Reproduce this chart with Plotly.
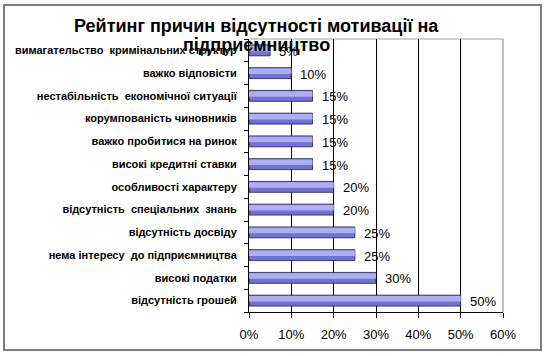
import plotly.graph_objects as go

# data (bottom to top)
categories = [
    "відсутність грошей",
    "високі податки",
    "нема інтересу  до підприємництва",
    "відсутність досвіду",
    "відсутність  спеціальних  знань",
    "особливості характеру",
    "високі кредитні ставки",
    "важко пробитися на ринок",
    "корумпованість чиновників",
    "нестабільність  економічної ситуації",
    "важко відповісти",
    "вимагательство  кримінальних структур",
]
values = [0.50, 0.30, 0.25, 0.25, 0.20, 0.20, 0.15, 0.15, 0.15, 0.15, 0.10, 0.05]
x_ticks = [0, 0.1, 0.2, 0.3, 0.4, 0.5, 0.6]
title_lines = ["Рейтинг причин відсутності мотивації на", "підприємництво"]

cats = [c.replace("  ", "\u00a0 ") for c in categories]
FONT = "Arial, Liberation Sans, sans-serif"

# plot area in pixels
L, R, T, B = 249, 503, 39, 312
W, H = 548, 356
def px(x):
    return (x - L) / (R - L)
def py(y):
    return (B - y) / (B - T)

fig = go.Figure()
fig.add_trace(go.Bar(
    x=values, y=cats, orientation="h",
    width=0.48, offset=-0.24,
    marker=dict(color="#7272d2", line=dict(color="#1c1c4c", width=0.8)),
    hoverinfo="skip",
))
fig.add_trace(go.Bar(
    x=values, y=cats, orientation="h",
    width=0.24, offset=-0.04,
    marker=dict(color="#aeaef2", line=dict(width=0)),
    hoverinfo="skip",
))

for v, c in zip(values, cats):
    fig.add_annotation(x=v, y=c, text=f"{round(v*100)}%", showarrow=False,
                       xanchor="left", xshift=7, yshift=-1,
                       font=dict(family=FONT, size=13, color="black"))

for line, yc in zip(title_lines, [26, 45]):
    fig.add_annotation(xref="paper", yref="paper", x=px(256), y=py(yc),
                       text=line, showarrow=False, xanchor="center", yanchor="middle",
                       font=dict(family=FONT, size=18, color="black", weight="bold"))

fig.update_layout(
    width=W, height=H,
    margin=dict(l=L, r=W - R, t=T, b=H - B),
    paper_bgcolor="white", plot_bgcolor="white",
    barmode="overlay", showlegend=False,
    xaxis=dict(range=[0, 0.6], tickvals=x_ticks, tickformat=".0%",
               showgrid=True, gridcolor="black", gridwidth=1,
               showline=True, linecolor="black", linewidth=1,
               ticks="outside", ticklen=5, tickcolor="black",
               ticklabelstandoff=5,
               tickfont=dict(family=FONT, size=13, color="black"),
               zeroline=False, fixedrange=True),
    yaxis=dict(type="category", categoryorder="array", categoryarray=cats,
               showline=True, linecolor="black", linewidth=1,
               ticks="outside", ticklen=4, tickcolor="black",
               tickson="boundaries", showgrid=False,
               ticklabelstandoff=9,
               tickfont=dict(family=FONT, size=11, color="black", weight="bold"),
               fixedrange=True),
    shapes=[
        dict(type="line", xref="paper", yref="paper", x0=0, x1=1, y0=1, y1=1,
             line=dict(color="#a0a0a0", width=1), layer="below"),
        dict(type="line", xref="paper", yref="paper", x0=1, x1=1, y0=0, y1=1,
             line=dict(color="#808080", width=1), layer="above"),
        dict(type="rect", xref="paper", yref="paper",
             x0=px(4), x1=px(541), y0=py(350), y1=py(5),
             line=dict(color="#7f7f7f", width=2), layer="above"),
    ],
)

fig.write_html("out.html", config={"displayModeBar": False},
               post_script="document.body.style.margin='0px';")
